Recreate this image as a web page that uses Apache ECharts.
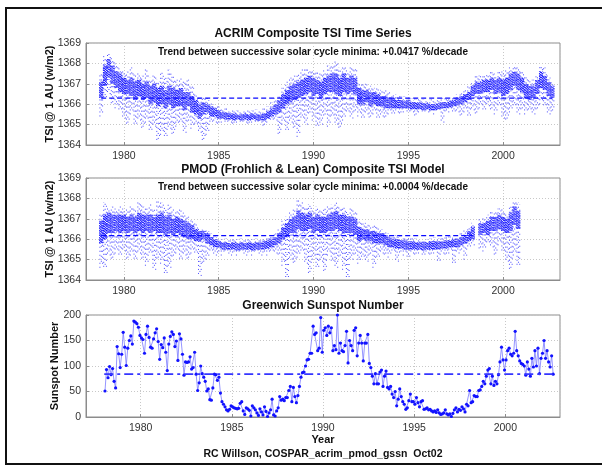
<!DOCTYPE html>
<html><head><meta charset="utf-8">
<script src="https://cdn.jsdelivr.net/npm/echarts@6/dist/echarts.min.js"></script>
<style>html,body{margin:0;padding:0;background:#fff;overflow:hidden}#c{width:602px;height:467px}</style>
</head><body><div id="c"></div>
<script>
// ---- DATA ----
// ACRIM bins: [year, low extent, dense-core low, dense-core high, high extent]
var acrimRows = [
[1978.8,1365.4,1366.3,1367.1,1367.5],[1979.0,1366.2,1366.9,1367.9,1368.4],[1979.2,1366.5,1367.3,1368.2,1368.5],[1979.4,1366.0,1367.0,1367.9,1368.3],
[1979.6,1365.8,1366.8,1367.6,1368.0],[1979.8,1365.6,1366.6,1367.5,1367.8],[1980.0,1365.3,1366.5,1367.3,1367.7],[1980.2,1365.0,1366.5,1367.2,1367.6],
[1980.4,1365.5,1366.4,1367.3,1367.8],[1980.6,1364.9,1366.2,1367.1,1367.5],[1980.8,1365.2,1366.4,1367.2,1367.6],[1981.0,1364.8,1366.2,1367.0,1367.4],
[1981.2,1365.1,1366.3,1367.1,1367.7],[1981.4,1364.6,1366.0,1366.9,1367.3],[1981.6,1364.9,1366.1,1367.0,1367.5],[1981.8,1364.2,1365.9,1366.8,1367.2],
[1982.0,1364.5,1366.0,1366.9,1367.6],[1982.2,1364.3,1365.8,1366.7,1367.3],[1982.4,1364.8,1366.0,1366.9,1367.7],[1982.6,1364.5,1365.8,1366.8,1367.4],
[1982.8,1364.9,1365.9,1366.7,1367.2],[1983.0,1365.0,1365.9,1366.8,1367.3],[1983.2,1364.6,1365.7,1366.6,1367.1],[1983.4,1365.1,1365.9,1366.6,1367.2],
[1983.6,1364.8,1365.6,1366.4,1366.9],[1983.8,1364.9,1365.5,1366.2,1366.6],[1984.0,1364.6,1365.3,1366.0,1366.4],[1984.2,1364.2,1365.5,1366.1,1366.4],
[1984.4,1364.5,1365.6,1366.0,1366.3],[1984.6,1365.0,1365.4,1365.9,1366.1],[1984.8,1365.1,1365.4,1365.8,1366.0],[1985.0,1365.0,1365.3,1365.7,1365.9],
[1985.2,1365.1,1365.3,1365.6,1365.8],[1985.4,1365.0,1365.25,1365.6,1365.8],[1985.6,1365.1,1365.25,1365.55,1365.75],[1985.8,1365.0,1365.2,1365.55,1365.7],
[1986.0,1365.1,1365.25,1365.5,1365.7],[1986.2,1365.0,1365.2,1365.5,1365.7],[1986.4,1365.1,1365.25,1365.55,1365.75],[1986.6,1365.0,1365.2,1365.5,1365.7],
[1986.8,1365.1,1365.25,1365.55,1365.7],[1987.0,1365.0,1365.2,1365.5,1365.75],[1987.2,1365.1,1365.2,1365.5,1365.7],[1987.4,1364.9,1365.2,1365.55,1365.8],
[1987.6,1365.1,1365.3,1365.65,1365.9],[1987.8,1365.1,1365.4,1365.8,1366.1],[1988.0,1365.2,1365.5,1366.0,1366.3],[1988.2,1364.5,1365.6,1366.2,1366.5],
[1988.4,1365.0,1365.8,1366.5,1366.8],[1988.6,1364.6,1366.0,1366.7,1367.1],[1988.8,1365.1,1366.1,1366.9,1367.3],[1989.0,1364.8,1366.2,1367.0,1367.4],
[1989.2,1364.4,1366.3,1367.1,1367.5],[1989.4,1365.2,1366.4,1367.2,1367.7],[1989.6,1365.0,1366.5,1367.3,1367.8],[1989.8,1365.5,1366.6,1367.4,1367.7],
[1990.0,1365.2,1366.4,1367.3,1367.6],[1990.2,1364.8,1366.5,1367.2,1367.6],[1990.4,1365.0,1366.3,1367.1,1367.5],[1990.6,1365.4,1366.5,1367.3,1367.7],
[1990.8,1364.9,1366.6,1367.4,1367.9],[1991.0,1365.3,1366.6,1367.5,1368.0],[1991.2,1365.0,1366.5,1367.5,1368.1],[1991.4,1364.8,1366.4,1367.3,1367.8],
[1991.6,1365.2,1366.6,1367.5,1367.9],[1991.8,1365.5,1366.5,1367.3,1367.7],[1992.0,1365.3,1366.6,1367.4,1367.9],[1992.2,1365.6,1366.5,1367.3,1367.8],
[1992.4,1365.4,1366.0,1366.8,1367.1],[1992.6,1365.2,1366.0,1366.7,1367.0],[1992.8,1365.5,1366.1,1366.7,1367.0],[1993.0,1365.3,1365.9,1366.6,1366.9],
[1993.2,1365.5,1366.0,1366.6,1366.8],[1993.4,1365.2,1365.9,1366.5,1366.8],[1993.6,1365.4,1365.9,1366.4,1366.7],[1993.8,1365.3,1365.8,1366.4,1366.7],
[1994.0,1365.5,1365.8,1366.3,1366.6],[1994.2,1365.4,1365.8,1366.3,1366.5],[1994.4,1365.6,1365.8,1366.2,1366.5],[1994.6,1365.5,1365.8,1366.2,1366.4],
[1994.8,1365.6,1365.8,1366.15,1366.4],[1995.0,1365.5,1365.8,1366.2,1366.4],[1995.2,1365.6,1365.75,1366.1,1366.3],[1995.4,1365.4,1365.75,1366.1,1366.3],
[1995.6,1365.6,1365.75,1366.1,1366.3],[1995.8,1365.5,1365.7,1366.05,1366.25],[1996.0,1365.6,1365.75,1366.05,1366.25],[1996.2,1365.6,1365.7,1366.0,1366.25],
[1996.4,1365.5,1365.7,1366.0,1366.2],[1996.6,1365.6,1365.75,1366.05,1366.25],[1996.8,1365.1,1365.8,1366.1,1366.3],[1997.0,1365.6,1365.8,1366.1,1366.3],
[1997.2,1365.6,1365.85,1366.15,1366.35],[1997.4,1365.5,1365.9,1366.2,1366.4],[1997.6,1365.6,1365.95,1366.3,1366.5],[1997.8,1365.4,1366.0,1366.4,1366.6],
[1998.0,1365.6,1366.1,1366.5,1366.7],[1998.2,1365.3,1366.2,1366.6,1366.9],[1998.4,1365.7,1366.4,1366.9,1367.1],[1998.6,1365.5,1366.5,1367.1,1367.4],
[1998.8,1365.8,1366.5,1367.1,1367.4],[1999.0,1365.6,1366.6,1367.2,1367.5],[1999.2,1365.9,1366.6,1367.2,1367.5],[1999.4,1365.7,1366.7,1367.3,1367.6],
[1999.6,1365.5,1366.5,1367.2,1367.5],[1999.8,1365.8,1366.6,1367.3,1367.6],[2000.0,1365.3,1366.4,1367.2,1367.6],[2000.2,1365.2,1366.5,1367.3,1367.7],
[2000.4,1365.6,1366.7,1367.5,1367.8],[2000.6,1365.8,1366.9,1367.6,1367.9],[2000.8,1365.5,1366.7,1367.5,1367.8],[2001.0,1365.7,1366.6,1367.3,1367.6],
[2001.2,1365.5,1366.3,1367.0,1367.4],[2001.4,1365.6,1366.2,1366.9,1367.2],[2001.6,1365.5,1366.3,1366.9,1367.2],[2001.8,1365.7,1366.5,1367.2,1367.5],
[2002.0,1366.0,1366.8,1367.6,1367.9],[2002.2,1365.8,1366.7,1367.4,1367.8],[2002.4,1365.5,1366.4,1367.1,1367.4],[2002.6,1365.6,1366.3,1366.9,1367.1]
];
// PMOD bins: [year, low extent, dense-core low, dense-core high, high extent]
var pmodRows = [
[1978.8,1364.6,1365.8,1366.9,1367.3],[1979.0,1364.5,1366.0,1367.2,1367.8],[1979.2,1365.2,1366.3,1367.3,1367.6],[1979.4,1365.0,1366.3,1367.2,1367.6],
[1979.6,1365.3,1366.4,1367.2,1367.5],[1979.8,1365.1,1366.3,1367.2,1367.6],[1980.0,1365.4,1366.4,1367.2,1367.5],[1980.2,1365.0,1366.3,1367.1,1367.5],
[1980.4,1365.2,1366.4,1367.2,1367.6],[1980.6,1364.9,1366.3,1367.1,1367.5],[1980.8,1365.3,1366.4,1367.3,1367.8],[1981.0,1365.0,1366.3,1367.2,1367.7],
[1981.2,1364.7,1366.4,1367.2,1367.6],[1981.4,1365.2,1366.3,1367.2,1367.7],[1981.6,1364.5,1366.4,1367.1,1367.5],[1981.8,1365.0,1366.3,1367.2,1367.9],
[1982.0,1364.8,1366.3,1367.3,1367.8],[1982.2,1364.2,1366.2,1367.1,1367.6],[1982.4,1364.6,1366.3,1367.2,1367.7],[1982.6,1365.1,1366.2,1367.0,1367.5],
[1982.8,1365.3,1366.3,1367.1,1367.4],[1983.0,1364.9,1366.2,1367.0,1367.5],[1983.2,1365.2,1366.1,1366.9,1367.3],[1983.4,1365.0,1366.0,1366.8,1367.1],
[1983.6,1365.3,1366.0,1366.7,1367.0],[1983.8,1365.2,1365.9,1366.5,1366.8],[1984.0,1364.2,1365.9,1366.4,1366.6],[1984.2,1364.8,1366.0,1366.4,1366.6],
[1984.4,1365.0,1365.8,1366.3,1366.5],[1984.6,1365.3,1365.7,1366.1,1366.3],[1984.8,1365.2,1365.6,1366.0,1366.2],[1985.0,1365.3,1365.6,1365.9,1366.1],
[1985.2,1365.2,1365.5,1365.85,1366.0],[1985.4,1365.3,1365.5,1365.85,1366.05],[1985.6,1365.2,1365.5,1365.8,1366.0],[1985.8,1365.3,1365.5,1365.85,1366.0],
[1986.0,1365.2,1365.45,1365.8,1366.0],[1986.2,1365.3,1365.5,1365.85,1366.05],[1986.4,1365.2,1365.5,1365.8,1366.0],[1986.6,1365.3,1365.5,1365.85,1366.0],
[1986.8,1365.2,1365.45,1365.8,1366.0],[1987.0,1365.3,1365.5,1365.85,1366.05],[1987.2,1365.2,1365.5,1365.85,1366.0],[1987.4,1365.3,1365.5,1365.9,1366.1],
[1987.6,1365.2,1365.55,1365.95,1366.15],[1987.8,1365.3,1365.6,1366.0,1366.2],[1988.0,1365.3,1365.7,1366.1,1366.3],[1988.2,1365.2,1365.8,1366.3,1366.5],
[1988.4,1364.7,1366.0,1366.6,1366.9],[1988.6,1364.0,1366.1,1366.8,1367.1],[1988.8,1365.0,1366.3,1367.0,1367.4],[1989.0,1364.8,1366.3,1367.1,1367.5],
[1989.2,1365.1,1366.5,1367.4,1368.0],[1989.4,1365.3,1366.4,1367.3,1367.8],[1989.6,1364.8,1366.4,1367.2,1367.6],[1989.8,1364.3,1366.5,1367.3,1367.7],
[1990.0,1365.0,1366.3,1367.1,1367.5],[1990.2,1364.5,1366.4,1367.2,1367.6],[1990.4,1364.9,1366.3,1367.1,1367.5],[1990.6,1364.4,1366.3,1367.1,1367.5],
[1990.8,1365.2,1366.4,1367.2,1367.6],[1991.0,1364.8,1366.4,1367.3,1367.7],[1991.2,1364.6,1366.5,1367.4,1367.8],[1991.4,1365.1,1366.4,1367.2,1367.6],
[1991.6,1364.5,1366.3,1367.2,1367.6],[1991.8,1364.0,1366.3,1367.1,1367.4],[1992.0,1365.0,1366.3,1367.1,1367.5],[1992.2,1365.2,1366.2,1367.0,1367.4],
[1992.4,1364.8,1365.9,1366.6,1366.9],[1992.6,1365.0,1366.0,1366.5,1366.8],[1992.8,1364.9,1365.9,1366.5,1366.8],[1993.0,1365.2,1365.9,1366.4,1366.7],
[1993.2,1364.6,1365.8,1366.4,1366.7],[1993.4,1365.0,1365.8,1366.3,1366.6],[1993.6,1365.3,1365.8,1366.3,1366.5],[1993.8,1365.2,1365.7,1366.2,1366.4],
[1994.0,1365.1,1365.6,1366.1,1366.3],[1994.2,1365.3,1365.6,1366.0,1366.2],[1994.4,1364.9,1365.55,1366.0,1366.2],[1994.6,1365.3,1365.55,1365.95,1366.15],
[1994.8,1365.2,1365.5,1365.95,1366.1],[1995.0,1365.0,1365.5,1365.9,1366.1],[1995.2,1365.3,1365.5,1365.9,1366.05],[1995.4,1365.2,1365.5,1365.85,1366.05],
[1995.6,1365.3,1365.5,1365.85,1366.0],[1995.8,1365.1,1365.45,1365.85,1366.0],[1996.0,1365.3,1365.5,1365.85,1366.0],[1996.2,1365.2,1365.5,1365.9,1366.05],
[1996.4,1365.3,1365.5,1365.9,1366.1],[1996.6,1364.8,1365.5,1365.9,1366.05],[1996.8,1365.3,1365.55,1365.9,1366.1],[1997.0,1365.2,1365.55,1365.95,1366.1],
[1997.2,1365.3,1365.6,1365.95,1366.15],[1997.4,1364.7,1365.6,1366.0,1366.15],[1997.6,1365.3,1365.6,1366.0,1366.2],[1997.8,1365.4,1365.7,1366.1,1366.3],
[1998.0,1365.0,1365.8,1366.2,1366.5],[1998.2,1365.5,1365.9,1366.4,1366.6],[1998.4,1365.7,1366.0,1366.6,1366.8],
[1998.8,1365.5,1366.2,1366.8,1367.0],[1999.0,1365.4,1366.3,1366.8,1367.1],[1999.2,1365.7,1366.2,1366.9,1367.2],[1999.4,1365.6,1366.4,1367.1,1367.4],
[1999.6,1365.2,1366.4,1367.1,1367.4],[1999.8,1365.7,1366.5,1367.2,1367.5],[2000.0,1365.3,1366.4,1367.1,1367.5],[2000.2,1364.9,1366.3,1367.0,1367.3],
[2000.4,1364.5,1366.4,1367.3,1367.6],[2000.6,1365.2,1366.7,1367.6,1367.9],[2000.8,1364.6,1366.5,1367.4,1367.8]
];
var binWidthYears = 0.2;
// Monthly Greenwich sunspot numbers, Jan 1978 onward
var ssnStartYear = 1978;
var ssnValues = [
51,93,77,99,83,95,70,57,138,124,97,123,
166,137,101,135,150,159,143,188,186,183,176,160,
155,152,125,162,178,156,137,135,153,165,173,148,
113,142,136,155,127,91,143,158,167,162,138,149,
111,163,153,123,82,108,107,108,118,94,97,127,
84,52,67,100,85,78,70,51,55,34,33,57,
84,83,72,78,47,30,25,20,14,12,15,22,
20,18,17,16,17,27,30,12,5,18,16,13,
2,22,18,14,8,3,16,10,4,20,11,1,
8,14,35,4,2,12,18,40,33,35,32,38,
38,52,60,30,58,40,28,42,60,78,87,88,
100,112,113,125,125,178,162,165,130,135,195,127,
170,175,160,178,165,175,130,140,132,200,125,145,
130,128,140,168,106,150,140,130,170,175,120,145,
160,145,110,145,145,162,105,97,80,65,85,65,
65,88,92,60,80,90,58,55,60,45,38,50,
22,35,55,40,30,25,15,18,32,45,30,30,
25,38,28,20,30,32,15,16,18,14,15,12,
10,12,9,14,8,5,6,8,14,6,4,6,
1,7,14,18,10,15,13,20,16,10,25,22,
52,28,30,42,40,40,52,53,60,70,65,80,
92,95,65,80,62,70,65,83,108,137,112,92,
112,130,135,123,120,125,168,130,120,110,105,103,
100,82,108,94,80,115,98,130,100,135,85,115,
125,150,115,130,108,98,120,84
];
// Reference (mean) lines
var acrimMeanLine = [[1978.8,1366.3],[2002.6,1366.3]];
var pmodMeanLine = [[1978.8,1366.18],[1998.4,1366.18]];
var ssnMeanLine = [[1978.0,84],[2002.6,84]];
// Text
var titles = ['ACRIM Composite TSI Time Series','PMOD (Frohlich & Lean) Composite TSI Model','Greenwich Sunspot Number'];
var trendTexts = ['Trend between successive solar cycle minima: +0.0417 %/decade','Trend between successive solar cycle minima: +0.0004 %/decade'];
var tsiYName = 'TSI @ 1 AU (w/m2)';
var ssnYName = 'Sunspot Number';
var xName = 'Year';
var footer = 'RC Willson, COSPAR_acrim_pmod_gssn  Oct02';

// ---- BUILD ----
var ssnData = ssnValues.map(function(v,i){return [ssnStartYear + (i+0.5)/12, v];});
var FONT = 'Liberation Sans, Arial, Helvetica, sans-serif';
var BLUE = '#0a0aff';

function bandSeries(rows, idx){
  return {
    type:'custom', xAxisIndex:idx, yAxisIndex:idx, data:rows, clip:true, z:2,
    renderItem:function(params, api){
      var x = api.value(0);
      var pL = api.coord([x, api.value(1)]);
      var pCL = api.coord([x, api.value(2)]);
      var pCH = api.coord([x, api.value(3)]);
      var pH = api.coord([x, api.value(4)]);
      var w = api.size([binWidthYears, 0])[0];
      var kids = [];
      var k = params.dataIndex;
      // sparse scatter extent (dotted)
      [-0.33, 0.05, 0.38].forEach(function(f, j){
        kids.push({type:'line', shape:{x1:pL[0]+w*f, y1:pL[1]-(j===1?2:0), x2:pH[0]+w*f, y2:pH[1]+(j===2?2:0)},
          style:{stroke:BLUE, lineWidth:1, lineDash:[1,3+j], lineDashOffset:(k+j)%4, opacity:0.75}});
      });
      // dense core (speckled)
      [-0.4, -0.13, 0.13, 0.4].forEach(function(f, j){
        kids.push({type:'line', shape:{x1:pCL[0]+w*f, y1:pCL[1], x2:pCH[0]+w*f, y2:pCH[1]},
          style:{stroke:BLUE, lineWidth:1.1, lineDash:[1.5,0.9], lineDashOffset:(k*2+j)%3, opacity:0.85}});
      });
      return {type:'group', children:kids};
    }
  };
}
function fmt(v){ return String(v); }
function xAxisCfg(idx, min){
  return {type:'value', gridIndex:idx, min:min, max:2003, splitNumber:5,
    axisLine:{show:true, lineStyle:{color:'#8c8c8c'}},
    axisTick:{show:true, inside:true, length:3, lineStyle:{color:'#8c8c8c'}},
    axisLabel:{showMinLabel:false, showMaxLabel:false, color:'#333', fontSize:10.5, fontFamily:FONT, margin:6, formatter:fmt},
    splitLine:{show:true, lineStyle:{color:'#c8c8c8', type:[1,2]}}};
}
function yAxisCfg(idx, min, max, interval){
  return {type:'value', gridIndex:idx, min:min, max:max, interval:interval,
    axisLine:{show:true, lineStyle:{color:'#8c8c8c'}},
    axisTick:{show:true, inside:true, length:3, lineStyle:{color:'#8c8c8c'}},
    axisLabel:{color:'#333', fontSize:10.5, fontFamily:FONT, margin:5, formatter:fmt},
    splitLine:{show:true, lineStyle:{color:'#c8c8c8', type:[1,2]}}};
}
function txt(x,y,t,size,bold,extra){
  var o = {type:'text', x:x, y:y, z:100, style:{text:t, fill:'#111', font:(bold?'bold ':'')+size+'px '+FONT, align:'center', verticalAlign:'middle'}};
  if (extra) for (var k in extra) o[k]=extra[k];
  return o;
}

var chart = echarts.init(document.getElementById('c'), null, {renderer:'canvas'});
chart.setOption({
  animation:false,
  backgroundColor:'#fff',
  grid:[
    {left:86, top:43, width:474, height:102, show:true, borderColor:'#8c8c8c', borderWidth:1, backgroundColor:'#fff'},
    {left:86, top:178, width:474, height:102, show:true, borderColor:'#8c8c8c', borderWidth:1, backgroundColor:'#fff'},
    {left:86, top:315, width:474, height:102, show:true, borderColor:'#8c8c8c', borderWidth:1, backgroundColor:'#fff'}
  ],
  xAxis:[xAxisCfg(0,1978), xAxisCfg(1,1978), xAxisCfg(2,1977)],
  yAxis:[yAxisCfg(0,1364,1369,1), yAxisCfg(1,1364,1369,1), yAxisCfg(2,0,200,50)],
  series:[
    bandSeries(acrimRows,0),
    bandSeries(pmodRows,1),
    {type:'line', xAxisIndex:0, yAxisIndex:0, data:acrimMeanLine, symbol:'none', z:3, lineStyle:{color:BLUE, width:1.2, type:[5,3]}},
    {type:'line', xAxisIndex:1, yAxisIndex:1, data:pmodMeanLine, symbol:'none', z:3, lineStyle:{color:BLUE, width:1.2, type:[5,3]}},
    {type:'line', xAxisIndex:2, yAxisIndex:2, data:ssnData, symbol:'circle', symbolSize:3.2, showAllSymbol:true, z:2,
      itemStyle:{color:'#1212ff'}, lineStyle:{color:'#7a7aff', width:0.8}},
    {type:'line', xAxisIndex:2, yAxisIndex:2, data:ssnMeanLine, symbol:'none', z:3, lineStyle:{color:'#3535ff', width:1.8, type:[9,4,3,4]}}
  ],
  graphic:[
    {type:'rect', z:100, shape:{x:6,y:8,width:640,height:456}, style:{fill:'none', stroke:'#111', lineWidth:2}},
    txt(313,34,titles[0],12,true),
    txt(313,52,trendTexts[0],10,true),
    txt(313,170,titles[1],12,true),
    txt(313,187,trendTexts[1],10,true),
    txt(323,306,titles[2],12,true),
    txt(50,94,tsiYName,11,true,{rotation:Math.PI/2}),
    txt(50,229,tsiYName,11,true,{rotation:Math.PI/2}),
    txt(55,366,ssnYName,11,true,{rotation:Math.PI/2}),
    txt(323,440,xName,11,true),
    txt(323,454,footer,10.5,true)
  ]
});
</script></body></html>
